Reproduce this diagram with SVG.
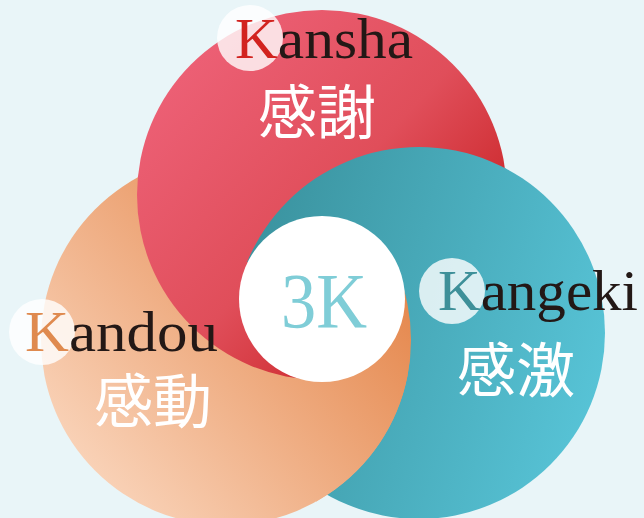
<svg xmlns="http://www.w3.org/2000/svg" width="644" height="518" viewBox="0 0 644 518">
<style>
.lat{font-family:"Liberation Serif","Times New Roman",serif;font-size:57px;fill:#231816}
.cjk{font-family:"Noto Sans CJK JP","Noto Sans CJK SC",sans-serif;font-size:59px;fill:#ffffff}
.hl{fill:#ffffff;fill-opacity:0.8}
</style>
<defs>
<linearGradient id="gRed" x1="0.15" y1="0.15" x2="0.9" y2="0.85">
<stop offset="0" stop-color="#ec5f74"/>
<stop offset="0.5" stop-color="#e04e5a"/>
<stop offset="1" stop-color="#c41a1a"/>
</linearGradient>
<linearGradient id="gTeal" x1="0" y1="0.3" x2="1" y2="0.6">
<stop offset="0" stop-color="#3a929e"/>
<stop offset="1" stop-color="#57c3d6"/>
</linearGradient>
<linearGradient id="gOrange" x1="0.1" y1="0.9" x2="0.9" y2="0.2">
<stop offset="0" stop-color="#fad6bd"/>
<stop offset="1" stop-color="#e48448"/>
</linearGradient>
<clipPath id="clipRed"><circle cx="322" cy="195" r="186.5"/></clipPath>
<clipPath id="clipTop"><path d="M0,0 H644 V518 H370 V262 H0 Z"/></clipPath>
<clipPath id="clipRight"><path d="M370,250 H644 V518 H316 V335 H370 Z"/></clipPath>
</defs>
<rect width="644" height="518" fill="#e9f5f8"/>
<g id="kangeki-circle"><circle cx="419" cy="333" r="186" fill="url(#gTeal)"/></g>
<g id="kandou-circle"><circle cx="226" cy="340" r="185" fill="url(#gOrange)"/></g>
<g id="kansha-circle"><circle cx="322" cy="195" r="185" fill="url(#gRed)"/></g>
<g id="overlaps">
<g clip-path="url(#clipRed)"><circle cx="419" cy="333" r="186" fill="url(#gTeal)" clip-path="url(#clipTop)"/></g>
<circle cx="226" cy="340" r="185" fill="url(#gOrange)" clip-path="url(#clipRight)"/>
</g>
<g id="center">
<circle cx="322" cy="299" r="83" fill="#ffffff"/>
<text x="324" y="327" text-anchor="middle" font-family="Liberation Serif, Times New Roman, serif" font-size="78" fill="#7fcdd7" textLength="86" lengthAdjust="spacingAndGlyphs">3K</text>
</g>
<g id="kansha">
<circle class="hl" cx="250" cy="38" r="33"/>
<text class="lat" x="235" y="58" textLength="178" lengthAdjust="spacingAndGlyphs"><tspan fill="#d2231f">K</tspan>ansha</text>
<text class="cjk" x="317" y="134" text-anchor="middle">感謝</text>
</g>
<g id="kandou">
<circle class="hl" cx="42" cy="332" r="33"/>
<text class="lat" x="25" y="351" textLength="193" lengthAdjust="spacingAndGlyphs"><tspan fill="#df8a4f">K</tspan>andou</text>
<text class="cjk" x="153" y="423" text-anchor="middle">感動</text>
</g>
<g id="kangeki">
<circle class="hl" cx="452" cy="291" r="33"/>
<text class="lat" x="438" y="310" textLength="200" lengthAdjust="spacingAndGlyphs"><tspan fill="#3e9099">K</tspan>angeki</text>
<text class="cjk" x="516" y="392" text-anchor="middle">感激</text>
</g>
</svg>
